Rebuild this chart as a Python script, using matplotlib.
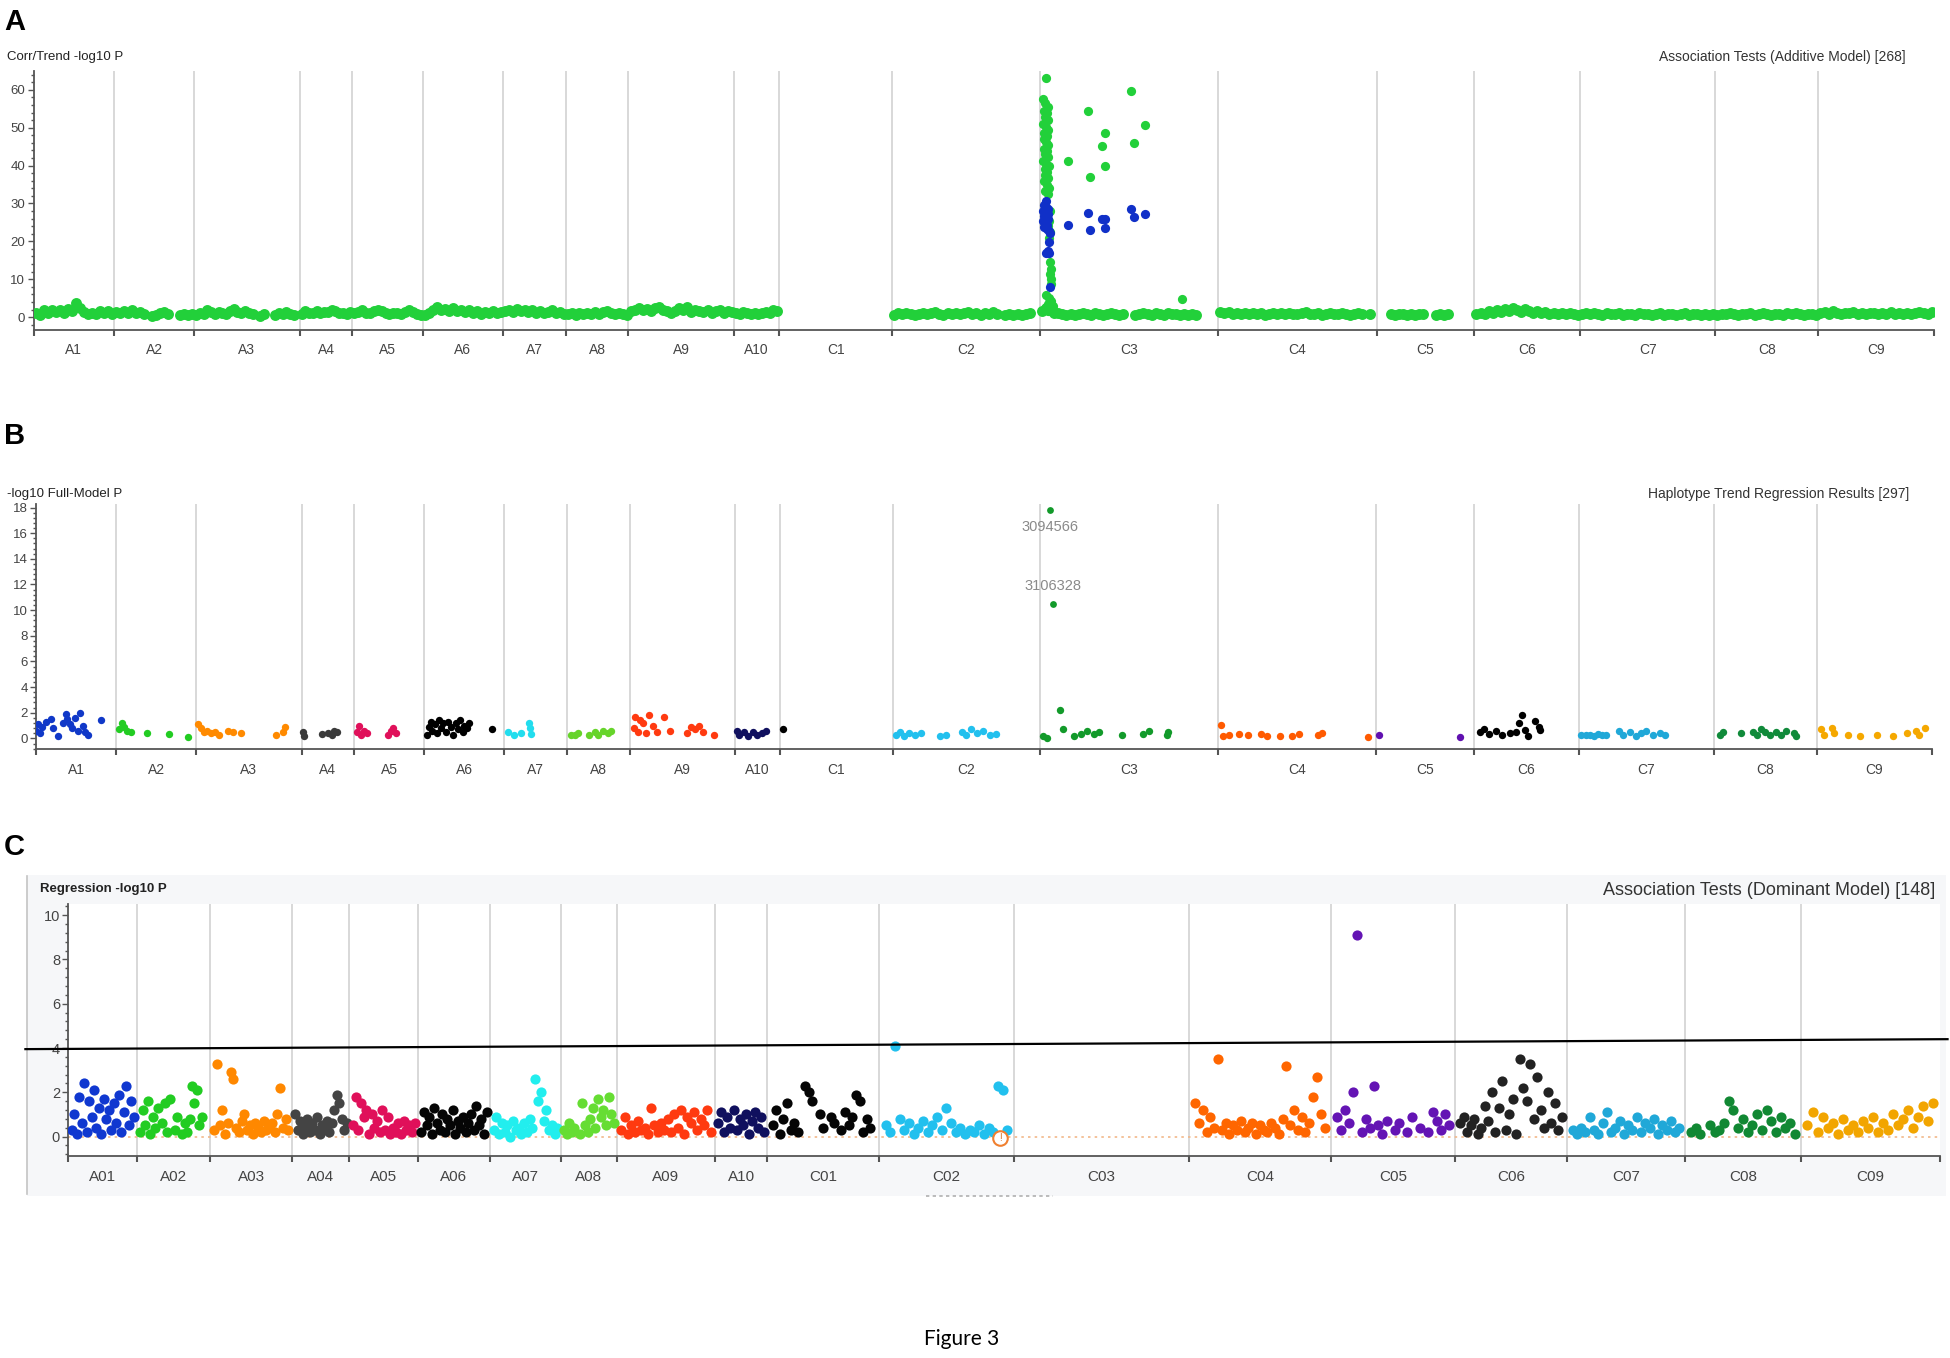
import numpy as np
import matplotlib.pyplot as plt
from matplotlib.patches import Rectangle
from matplotlib.lines import Line2D
from matplotlib.ticker import MultipleLocator, FixedLocator
from matplotlib.transforms import blended_transform_factory

plt.rcParams['font.family'] = ['Liberation Sans', 'DejaVu Sans']

# ---------------- panel A / B chromosomes ----------------
ab_chroms = ['A1', 'A2', 'A3', 'A4', 'A5', 'A6', 'A7', 'A8', 'A9', 'A10',
             'C1', 'C2', 'C3', 'C4', 'C5', 'C6', 'C7', 'C8', 'C9']
ab_len = [32, 32, 42, 21, 28, 32, 25, 25, 42, 18, 45, 59, 71, 63, 39, 42, 54, 41, 46]

# panel A: -log10 P per SNP slot along each chromosome (nan = no SNP)
nan = np.nan
a_band = [
    [1.2, 0.6, 1.8, 1.0, 2.0, 1.4, 1.9, 1.2, 2.1, 1.5, 3.6, 2.4, 1.3, 0.7, 1.2, 0.8, 1.5, 1.0, 1.6, 0.9],
    [1.3, 1.0, 1.6, 1.2, 1.9, 1.1, 1.3, 0.9, nan, 0.4, 0.6, 1.0, 1.4, 0.7, nan, nan, 0.5, 0.8, 0.6, 0.9],
    [0.5, 1.2, 0.8, 1.9, 1.3, 0.9, 1.4, 1.0, 0.8, 1.6, 2.2, 1.3, 1.0, 1.5, 1.1, 0.7, nan, 0.4, 0.9,
     nan, nan, 0.6, 1.0, 0.7, 1.3, 0.8, 0.5, nan],
    [0.7, 1.5, 1.2, 1.0, 1.6, 1.1, 1.4, 1.3, 2.0, 1.5, 1.1, 1.2, 0.9, 1.3],
    [1.1, 1.4, 1.8, 1.2, 1.0, 1.5, 2.0, 1.6, 1.1, 0.8, 1.0, 1.2, 0.7, 1.4, 1.9, 1.3, 0.8, 0.5],
    [0.6, 1.2, 1.8, 2.6, 1.9, 2.2, 1.5, 2.3, 1.7, 2.0, 1.3, 1.8, 1.1, 1.5, 0.9, 1.4, 1.2, 1.7, 1.0, 1.3],
    [1.5, 1.9, 1.3, 2.2, 1.6, 1.8, 1.4, 2.0, 1.2, 1.5, 1.0, 1.4, 1.8, 1.1, 1.3, 0.9],
    [0.8, 1.2, 0.6, 1.0, 0.9, 1.1, 0.7, 1.3, 0.8, 1.4, 1.6, 1.2, 0.9, 1.1, 0.7, 0.6],
    [1.5, 2.0, 2.4, 1.8, 2.1, 1.6, 2.3, 2.7, 2.0, 1.5, 1.2, 1.7, 2.5, 1.8, 2.6, 1.4, 2.0, 1.7, 1.3,
     1.9, 1.1, 1.6, 1.8, 1.2, 1.5, 1.3],
    [1.1, 0.8, 1.3, 1.0, 0.7, 1.2, 0.9, 1.0, 1.3, 1.1, 2.0, 1.6],
    [],
    [0.6, 1.0, 0.7, 1.2, 0.8, 0.5, 0.9, 1.1, 0.7, 1.0, 1.3, 0.8, 0.6, 1.0, 0.9, 1.2, 0.7, 1.1, 1.4,
     0.8, 1.0, 0.6, 1.2, 0.9, 1.3, 0.8, nan, 0.5, 0.7, 0.6, 0.9, 0.5, 0.8, 1.0, nan, nan],
    [1.5, 2.5, 1.8, 1.2, 1.0, 0.8, 0.6, 0.9, 0.5, 0.8, 1.0, 0.7, 0.6, 1.1, 0.8, 0.5, 0.9, 1.2, 0.7,
     0.6, 0.8, nan, nan, 0.6, 0.9, 1.2, 0.7, 0.5, 1.0, 0.8, 0.6, 1.1, 0.7, 0.8, 0.5, 0.9, 0.6, 0.7,
     0.5, nan, nan, nan, nan, nan],
    [1.3, 1.0, 1.4, 0.8, 1.1, 0.9, 1.2, 0.7, 1.0, 0.8, 1.1, 0.6, 0.9, 1.2, 0.8, 1.0, 0.7, 1.1, 0.9,
     0.8, 1.0, 1.3, 0.7, 0.9, 1.1, 0.6, 0.8, 1.0, 0.9, 0.7, 1.2, 0.8, 0.6, 0.9, 1.0, 0.7, nan, 0.8, nan],
    [nan, nan, nan, 0.7, 0.6, 0.9, 0.7, 0.5, 0.8, 0.6, 0.9, 0.7, nan, nan, 0.6, 0.8, 0.5, 0.7,
     nan, nan, nan, nan, nan, nan],
    [0.8, 1.2, 0.9, 1.5, 1.1, 1.8, 1.3, 2.2, 1.6, 2.5, 1.9, 1.4, 2.1, 1.5, 1.2, 1.7, 1.0, 1.4, 0.9,
     1.2, 0.8, 1.1, 0.7, 1.0, 0.9, 0.6],
    [0.8, 1.1, 0.7, 1.0, 0.9, 0.6, 1.2, 0.8, 0.7, 1.0, 0.5, 0.9, 0.8, 0.6, 1.0, 0.7, 0.9, 0.5, 0.8,
     1.1, 0.6, 0.9, 0.7, 0.5, 0.8, 1.0, 0.6, 0.7, 0.9, 0.5, 0.8, 0.6, 0.7],
    [0.6, 0.9, 0.7, 1.0, 0.8, 0.5, 0.9, 0.7, 1.1, 0.6, 0.8, 1.0, 0.7, 0.5, 0.9, 0.8, 0.6, 1.0, 0.7,
     1.2, 0.8, 0.6, 0.9, 0.7, 0.5],
    [1.0, 1.3, 0.9, 1.5, 1.1, 0.8, 1.2, 1.0, 1.4, 0.9, 1.1, 0.7, 1.0, 1.2, 0.8, 1.0, 0.9, 1.3, 0.7,
     1.1, 0.9, 1.2, 0.8, 1.0, 1.4, 1.1, 0.9, 1.3],
]

# panel A: the C3 association peak (position in Mb on C3, -log10 P)
a_peak_green_pos = [2.5, 1.2, 2.0, 3.0, 1.5, 2.6, 1.8, 3.2, 1.3, 2.4, 3.0, 1.7, 2.8, 1.4, 2.2, 3.3,
                    1.6, 2.7, 1.9, 3.1, 1.2, 2.5, 3.4, 1.8, 2.9, 2.1, 3.3, 1.5, 2.6, 3.5, 2.0, 3.0,
                    3.8, 3.6, 3.2, 3.9, 3.4, 3.9, 4.3, 4.1, 4.4, 4.2, 2.3, 3.7, 4.5, 3.2, 5.0, 4.0,
                    5.5, 3.0,
                    10.9, 18.9, 25.8, 24.8, 25.8, 19.9, 36.3, 41.7, 37.5, 56.7]
a_peak_green_val = [63.0, 57.5, 56.5, 55.5, 54.5, 53.8, 52.8, 52.0, 51.0, 50.3, 49.5, 48.6, 47.8,
                    47.0, 46.2, 45.4, 44.5, 43.8, 43.0, 42.2, 41.3, 40.5, 39.8, 39.0, 38.2, 37.4,
                    36.6, 35.8, 35.0, 34.0, 33.2, 32.5, 28.0, 25.5, 24.0, 22.5, 21.0, 14.5, 12.8,
                    11.5, 10.0, 8.8, 5.9, 5.0, 4.2, 3.4, 2.8, 2.2, 1.6, 1.5,
                    41.2, 54.5, 48.5, 45.3, 39.8, 37.1, 59.7, 50.6, 46.0, 4.8]
a_peak_blue_pos = [2.5, 1.5, 2.5, 3.3, 1.0, 2.0, 3.0, 1.4, 2.3, 3.2, 1.2, 2.1, 2.9, 1.7, 2.6, 3.4,
                   3.8, 3.5, 3.0, 2.5, 3.6, 4.0,
                   10.9, 18.9, 19.9, 24.8, 25.8, 25.8, 36.3, 37.5, 41.7]
a_peak_blue_val = [30.7, 29.5, 29.0, 28.5, 28.0, 27.6, 27.2, 26.6, 26.2, 25.8, 25.3, 24.8, 24.4,
                   23.8, 23.3, 22.8, 22.3, 19.8, 17.4, 16.8, 17.0, 8.0,
                   24.4, 27.5, 22.9, 26.0, 26.0, 23.6, 28.6, 26.4, 27.2]

# panel B: haplotype trend regression (fraction along chromosome, -log10 P)
b_colors = ['#1038c8', '#22cc22', '#ff8a00', '#3a3a3a', '#e0105a', '#000000', '#22ddee',
            '#66d42a', '#ff3a10', '#10105e', '#000000', '#22c0ee', '#129a2a', '#ff5a00',
            '#6010b0', '#000000', '#20a8d8', '#108a3a', '#f5a800']
b_pos = [
    [0.0, 0.02, 0.05, 0.08, 0.13, 0.18, 0.21, 0.27, 0.33, 0.37, 0.39, 0.42, 0.45, 0.48, 0.52, 0.55,
     0.58, 0.61, 0.65, 0.81],
    [0.03, 0.07, 0.1, 0.14, 0.18, 0.38, 0.66, 0.89],
    [0.02, 0.04, 0.07, 0.1, 0.14, 0.18, 0.22, 0.3, 0.35, 0.42, 0.76, 0.82, 0.84],
    [0.02, 0.05, 0.38, 0.5, 0.58, 0.62, 0.68],
    [0.04, 0.07, 0.1, 0.14, 0.18, 0.48, 0.52, 0.56, 0.6],
    [0.04, 0.06, 0.08, 0.1, 0.13, 0.16, 0.18, 0.21, 0.24, 0.27, 0.3, 0.33, 0.36, 0.39, 0.42, 0.45,
     0.48, 0.5, 0.53, 0.56, 0.84],
    [0.06, 0.16, 0.27, 0.4, 0.41, 0.42],
    [0.06, 0.12, 0.18, 0.35, 0.45, 0.5, 0.58, 0.65, 0.7],
    [0.04, 0.05, 0.08, 0.1, 0.13, 0.16, 0.18, 0.22, 0.26, 0.33, 0.38, 0.55, 0.58, 0.62, 0.66, 0.7,
     0.8],
    [0.05, 0.1, 0.2, 0.3, 0.4, 0.5, 0.6, 0.7],
    [0.03],
    [0.02, 0.05, 0.08, 0.11, 0.15, 0.19, 0.32, 0.36, 0.47, 0.5, 0.53, 0.57, 0.61, 0.66, 0.7],
    [0.013, 0.037, 0.11, 0.13, 0.19, 0.23, 0.26, 0.3, 0.33, 0.46, 0.58, 0.61, 0.71, 0.72],
    [0.02, 0.03, 0.07, 0.13, 0.19, 0.27, 0.31, 0.39, 0.47, 0.51, 0.63, 0.66, 0.95],
    [0.03, 0.86],
    [0.06, 0.1, 0.15, 0.21, 0.27, 0.35, 0.43, 0.46, 0.49, 0.52, 0.58, 0.62, 0.63, 0.4],
    [0.02, 0.05, 0.08, 0.11, 0.14, 0.17, 0.2, 0.3, 0.33, 0.38, 0.42, 0.46, 0.5, 0.55, 0.6, 0.64],
    [0.06, 0.09, 0.26, 0.38, 0.42, 0.46, 0.5, 0.55, 0.6, 0.65, 0.7, 0.78, 0.8],
    [0.04, 0.06, 0.13, 0.15, 0.27, 0.38, 0.52, 0.66, 0.78, 0.86, 0.89, 0.94],
]
b_val = [
    [0.6, 1.1, 0.4, 0.9, 1.3, 1.5, 0.8, 0.2, 1.2, 1.9, 1.5, 1.1, 0.8, 1.6, 0.6, 2.0, 1.0, 0.5, 0.3, 1.4],
    [0.7, 1.2, 0.9, 0.6, 0.5, 0.4, 0.35, 0.1],
    [1.1, 0.8, 0.5, 0.6, 0.4, 0.5, 0.3, 0.6, 0.5, 0.4, 0.3, 0.5, 0.9],
    [0.5, 0.2, 0.35, 0.45, 0.3, 0.6, 0.5],
    [0.5, 1.0, 0.3, 0.6, 0.4, 0.3, 0.6, 0.8, 0.4],
    [0.3, 0.9, 1.3, 0.6, 1.1, 0.4, 1.4, 0.8, 1.2, 0.5, 1.3, 0.9, 0.3, 1.2, 0.7, 1.4, 0.5, 1.0, 0.8,
     1.2, 0.7],
    [0.5, 0.3, 0.4, 1.2, 0.8, 0.35],
    [0.3, 0.25, 0.4, 0.3, 0.5, 0.3, 0.6, 0.4, 0.55],
    [0.8, 1.7, 0.5, 1.4, 1.2, 0.4, 1.8, 1.0, 0.5, 1.7, 0.6, 0.4, 0.9, 0.7, 1.0, 0.5, 0.3],
    [0.6, 0.3, 0.5, 0.2, 0.5, 0.3, 0.4, 0.6],
    [0.7],
    [0.3, 0.5, 0.2, 0.45, 0.3, 0.4, 0.2, 0.3, 0.5, 0.3, 0.7, 0.4, 0.6, 0.3, 0.35],
    [0.15, 0.0, 2.2, 0.7, 0.2, 0.35, 0.6, 0.35, 0.5, 0.3, 0.35, 0.6, 0.3, 0.5],
    [1.07, 0.2, 0.3, 0.35, 0.3, 0.35, 0.2, 0.15, 0.15, 0.35, 0.3, 0.4, 0.1],
    [0.3, 0.1],
    [0.5, 0.7, 0.35, 0.6, 0.3, 0.4, 1.2, 1.8, 0.65, 0.2, 1.35, 0.9, 0.65, 0.5],
    [0.3, 0.25, 0.3, 0.2, 0.35, 0.3, 0.25, 0.6, 0.3, 0.5, 0.2, 0.4, 0.6, 0.3, 0.4, 0.25],
    [0.3, 0.5, 0.4, 0.5, 0.3, 0.7, 0.5, 0.3, 0.5, 0.3, 0.6, 0.4, 0.2],
    [0.7, 0.3, 0.8, 0.4, 0.3, 0.2, 0.3, 0.2, 0.4, 0.6, 0.3, 0.8],
]
b_hit_pos = [0.057, 0.07]          # on C3
b_hit_val = [17.8, 10.5]
b_hit_ids = ['3094566', '3106328']

# ---------------- panel C chromosomes ----------------
c_chroms = ['A01', 'A02', 'A03', 'A04', 'A05', 'A06', 'A07', 'A08', 'A09', 'A10',
            'C01', 'C02', 'C03', 'C04', 'C05', 'C06', 'C07', 'C08', 'C09']
c_len = [27.5, 29.5, 33, 23, 27.5, 29, 28.5, 22.5, 39.5, 21, 45, 54, 70.5, 57, 50, 45, 47.5, 46.5, 56]
c_colors = ['#1038d0', '#22cc22', '#ff8800', '#444444', '#e0105a', '#050505', '#22eeee',
            '#66dd33', '#ff3a10', '#10105e', '#050505', '#22c0ee', '#000000', '#ff6600',
            '#6414b4', '#222222', '#20a8d8', '#118833', '#f2a500']
c_vals = [
    [0.3, 1.0, 0.1, 1.8, 0.6, 2.4, 0.2, 1.6, 0.9, 2.1, 0.4, 1.3, 0.1, 1.7, 0.8, 1.2, 0.3, 1.5, 0.6,
     1.9, 0.2, 1.1, 2.3, 0.5, 1.6, 0.9],
    [0.2, 1.2, 0.5, 1.6, 0.1, 0.9, 0.4, 1.3, nan, 0.6, 1.5, 0.2, 1.7, nan, 0.3, 0.9, nan, 0.1, 0.6,
     0.2, 0.8, 2.3, 1.5, 2.1, 0.5, 0.9, nan, nan],
    [0.3, 3.3, 0.5, 1.2, 0.1, 0.6, 2.9, 2.6, 0.4, 0.2, 0.7, 1.0, 0.3, 0.5, 0.1, 0.6, 0.4, 0.2, 0.7,
     0.3, 0.5, 0.6, 0.2, 1.0, 2.2, 0.4, 0.8, 0.3],
    [1.0, 0.3, 0.7, 0.1, 0.5, 0.8, 0.2, 0.6, 0.3, 0.9, 0.1, 0.5, 0.4, 0.7, 0.2, 0.6, 1.2, 1.9, 1.5,
     0.8, 0.3, 0.6],
    [0.5, 1.8, 0.3, 1.5, 0.9, 1.2, 0.1, 1.0, 0.4, 0.7, 0.2, 1.2, 0.3, 0.9, 0.1, 0.4, 0.2, 0.6, 0.1,
     0.7, 0.3, 0.5, 0.2, 0.6],
    [0.2, 1.1, 0.5, 0.9, 0.1, 1.3, 0.6, 0.3, 1.0, 0.2, 0.8, 0.5, 1.2, 0.1, 0.7, 0.4, 0.9, 0.2, 0.6,
     1.0, 0.3, 1.4, 0.5, 0.8, 0.1, 1.1],
    [0.3, 0.9, 0.1, 0.6, 0.2, 0.5, 0.0, 0.7, 0.3, 0.4, 0.1, 0.6, 0.2, 0.8, 0.4, 2.6, 1.6, 2.0, 0.7,
     1.2, 0.3, 0.5, 0.1, 0.4],
    [0.3, 0.1, 0.6, 0.2, 0.4, nan, 0.1, 1.5, 0.5, 0.2, 0.8, 1.3, 0.4, 1.7, 0.9, 1.2, 0.5, 1.8, 1.0, 0.6],
    [0.3, 0.9, 0.1, 0.5, 0.2, 0.7, 0.3, 0.4, 0.1, 1.3, 0.5, 0.2, 0.6, 0.3, 0.8, 0.2, 1.0, 0.4, 1.2,
     0.1, 0.9, 0.6, 1.1, 0.3, 0.8, 0.5, 1.2, 0.2],
    [0.6, 1.1, 0.2, 0.9, 0.4, 1.2, 0.3, 0.8, 0.5, 1.0, 0.1, 0.7, 1.1, 0.4, 0.9, 0.2],
    [0.5, 1.2, 0.1, 0.8, 1.5, 0.3, 0.6, 0.2, nan, 2.3, 2.0, 1.6, nan, 1.0, 0.4, nan, 0.9, 0.6, nan,
     0.3, 1.1, 0.5, 0.9, 1.9, 1.6, 0.2, 0.8, 0.4, nan],
    [0.5, 0.2, 4.1, 0.8, 0.3, 0.6, 0.1, 0.4, 0.7, 0.2, 0.5, 0.9, 0.3, 1.3, 0.6, 0.2, 0.4, 0.1, 0.3,
     0.2, 0.5, 0.1, 0.4, 0.2, 2.3, 2.1, 0.3],
    [],
    [1.5, 0.6, 1.2, 0.2, 0.9, 0.4, 3.5, 0.3, 0.6, 0.1, 0.5, 0.3, 0.7, 0.2, 0.4, 0.6, 0.1, 0.5, 0.3,
     0.2, 0.6, 0.4, 0.1, 0.8, 3.2, 0.5, 1.2, 0.3, 0.9, 0.2, 0.6, 1.8, 2.7, 1.0, 0.4],
    [0.9, 0.3, 1.2, 0.6, 2.0, 9.1, 0.2, 0.8, 0.4, 2.3, 0.5, 0.1, 0.7, nan, 0.3, 0.6, nan, 0.2, 0.9,
     nan, 0.4, nan, 0.2, 1.1, 0.7, 0.3, 1.0, 0.5],
    [0.6, 0.9, 0.2, 0.5, 0.8, 0.1, 0.4, 1.4, 0.7, 2.0, 0.2, 1.3, 2.5, 0.3, 1.0, 1.7, 0.1, 3.5, 2.2,
     1.6, 3.3, 0.8, 2.7, 1.2, 0.4, 2.0, 0.6, 1.5, 0.3, 0.9],
    [0.3, 0.1, 0.4, 0.2, 0.9, 0.3, 0.1, 0.6, 1.1, 0.2, 0.4, 0.7, 0.1, 0.5, 0.3, 0.9, 0.2, 0.6, 0.4,
     0.8, 0.1, 0.5, 0.3, 0.7, 0.2, 0.4],
    [0.2, 0.4, 0.1, nan, 0.5, 0.2, 0.3, 0.6, 1.6, 1.2, 0.4, 0.8, 0.2, 0.5, 1.0, 0.3, 1.2, 0.7, 0.2,
     0.9, 0.4, 0.6, 0.1],
    [0.5, 1.1, 0.2, 0.9, 0.4, 0.6, 0.1, 0.8, 0.3, 0.5, 0.2, 0.7, 0.4, 0.9, 0.2, 0.6, 0.3, 1.0, 0.5,
     0.8, 1.2, 0.4, 0.9, 1.4, 0.7, 1.5],
]
c_threshold = (3.95, 4.4)   # drawn threshold, left and right end

GREEN = '#22d03a'
BLUE = '#1030c8'
TICK_COLOR = '#444444'


def chrom_starts(lengths):
    return np.concatenate([[0.0], np.cumsum(lengths)[:-1]])


def slot_x(start, length, n, lo=0.0, hi=1.0):
    # SNP slots spread along the chromosome
    return start + length * (lo + (hi - lo) * (np.arange(n) + 0.5) / n)


def style_axes(ax, lengths, names, ylim, ymajor, yminor, label_size, tick_size):
    starts = chrom_starts(lengths)
    total = float(np.sum(lengths))
    ax.set_xlim(0, total)
    ax.set_ylim(*ylim)
    for s in ['top', 'right']:
        ax.spines[s].set_visible(False)
    for s in ['left', 'bottom']:
        ax.spines[s].set_color('#555555')
        ax.spines[s].set_linewidth(1.3)
    for b in starts[1:]:
        ax.axvline(b, color='#d6d6d6', lw=1.3, zorder=0)
    centers = starts + np.asarray(lengths) / 2
    ax.xaxis.set_major_locator(FixedLocator(centers))
    ax.set_xticklabels(names)
    ax.xaxis.set_minor_locator(FixedLocator(list(starts) + [total]))
    ax.tick_params(axis='x', which='major', length=0, pad=10, labelsize=label_size,
                   labelcolor=TICK_COLOR)
    ax.tick_params(axis='x', which='minor', length=4, width=1.5, color='#555555')
    ax.yaxis.set_major_locator(MultipleLocator(ymajor))
    ax.yaxis.set_minor_locator(MultipleLocator(yminor))
    ax.tick_params(axis='y', which='major', length=4, width=1.0, color='#555555',
                   labelsize=tick_size, labelcolor=TICK_COLOR, pad=2)
    ax.tick_params(axis='y', which='minor', length=2, width=1.0, color='#555555')
    return starts


fig = plt.figure(figsize=(19.5, 13.58), dpi=100)

# ---------------- A ----------------
axA = fig.add_axes([0.0172, 0.7573, 0.9745, 0.1905])
a_starts = style_axes(axA, ab_len, ab_chroms, (-3.3, 65), 10, 2, 10, 9.5)
for i, vals in enumerate(a_band):
    if len(vals) == 0:
        continue
    v = np.array(vals, dtype=float)
    axA.scatter(slot_x(a_starts[i], ab_len[i], len(v)), v, s=62, color=GREEN, lw=0, zorder=3)
c3 = ab_chroms.index('C3')
axA.scatter(a_starts[c3] + np.array(a_peak_green_pos), a_peak_green_val, s=44, color=GREEN,
            lw=0, zorder=3)
axA.scatter(a_starts[c3] + np.array(a_peak_blue_pos), a_peak_blue_val, s=44, color=BLUE,
            lw=0, zorder=4)
fig.text(0.0035, 0.958, 'Corr/Trend -log10 P', fontsize=9.5, color='#222222', va='center')
fig.text(0.977, 0.958, 'Association Tests (Additive Model) [268]', fontsize=10,
         color='#333333', va='center', ha='right')

# ---------------- B ----------------
axB = fig.add_axes([0.0185, 0.4487, 0.9722, 0.1804])
b_starts = style_axes(axB, ab_len, ab_chroms, (-0.8, 18.3), 2, 0.4, 10, 9.5)
for i in range(len(ab_chroms)):
    if len(b_pos[i]) == 0:
        continue
    x = b_starts[i] + np.array(b_pos[i]) * ab_len[i]
    axB.scatter(x, b_val[i], s=28, color=b_colors[i], lw=0, zorder=3)
hx = b_starts[c3] + np.array(b_hit_pos) * ab_len[c3]
axB.scatter(hx, b_hit_val, s=24, color=b_colors[c3], lw=0, zorder=3)
axB.text(hx[0], b_hit_val[0] - 1.3, b_hit_ids[0], ha='center', va='center',
         fontsize=10.5, color='#8a8a8a')
axB.text(hx[1], b_hit_val[1] + 1.4, b_hit_ids[1], ha='center', va='center',
         fontsize=10.5, color='#8a8a8a')
fig.text(0.0035, 0.6365, '-log10 Full-Model P', fontsize=9.5, color='#222222', va='center')
fig.text(0.979, 0.6365, 'Haplotype Trend Regression Results [297]', fontsize=10,
         color='#333333', va='center', ha='right')

# ---------------- C ----------------
frame = Rectangle((0.014, 0.119), 0.984, 0.237, transform=fig.transFigure,
                  facecolor='#f6f7f9', edgecolor='none', zorder=-10)
fig.add_artist(frame)
fig.add_artist(Line2D([0.014, 0.014], [0.121, 0.355], color='#c4c4c4', lw=1.2, zorder=-5))
fig.add_artist(Line2D([0.475, 0.540], [0.1195, 0.1195], color='#b0b0b0', lw=1.2,
                      linestyle=(0, (2, 2))))

axC = fig.add_axes([0.0351, 0.1484, 0.9598, 0.1858])
axC.set_facecolor('white')
c_starts = style_axes(axC, c_len, c_chroms, (-0.9, 10.5), 2, 0.4, 11, 10.5)
axC.axhline(0, color='#f2b889', lw=1.2, linestyle=(0, (1.5, 2.5)), zorder=1)
for i, vals in enumerate(c_vals):
    if len(vals) == 0:
        continue
    v = np.array(vals, dtype=float)
    axC.scatter(slot_x(c_starts[i], c_len[i], len(v), 0.03, 0.97), v, s=54,
                color=c_colors[i], lw=0, zorder=3)

# warning marker at the end of C02
c02 = c_chroms.index('C02')
axC.scatter([c_starts[c02] + c_len[c02] * 0.9], [-0.05], s=110, facecolor='white',
            edgecolor='#f08030', lw=1.5, zorder=5, clip_on=False)
axC.text(c_starts[c02] + c_len[c02] * 0.9, -0.05, '!', ha='center', va='center',
         fontsize=7, color='#e07020', zorder=6)

trans = blended_transform_factory(axC.transAxes, axC.transData)
axC.plot([-0.023, 1.004], list(c_threshold), color='black', lw=1.6, transform=trans,
         clip_on=False, zorder=6)

fig.text(0.0205, 0.3453, 'Regression -log10 P', fontsize=9.5, color='#222222',
         va='center', fontweight='bold')
fig.text(0.9925, 0.3443, 'Association Tests (Dominant Model) [148]', fontsize=13,
         color='#333333', va='center', ha='right')

# panel letters and caption
for letter, y in [('A', 0.984), ('B', 0.679), ('C', 0.376)]:
    fig.text(0.0075, y, letter, fontsize=21, fontweight='bold', va='center', ha='center')
fig.text(0.493, 0.0137, 'Figure 3', fontsize=15, va='center', ha='center',
         family=['Lato', 'DejaVu Sans'])

fig.savefig('out.png', dpi=100, facecolor='white')
